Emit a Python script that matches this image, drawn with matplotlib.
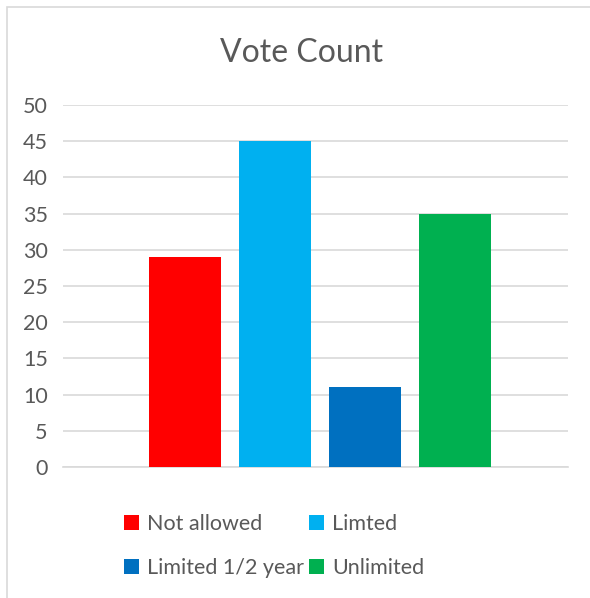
import matplotlib.pyplot as plt
from matplotlib.patches import Rectangle

series = ['Not allowed', 'Limted', 'Limited 1/2 year', 'Unlimited']
votes = [29, 45, 11, 35]
colors = ['#FF0000', '#00B0F0', '#0070C0', '#00B050']
yticks = [0, 5, 10, 15, 20, 25, 30, 35, 40, 45, 50]

TEXT = '#595959'
GRID = '#D9D9D9'

plt.rcParams['font.family'] = ['Lato', 'DejaVu Sans']

fig = plt.figure(figsize=(5.9, 5.98), dpi=100)
ax = fig.add_axes([63 / 590, 1 - 467 / 598, 505 / 590, 362 / 598])

# chart frame (cut off on the right and bottom)
fig.patches.append(Rectangle((6.5 / 590, -0.1), 1.2, 1.1 - 7.5 / 598,
                             transform=fig.transFigure, fill=False,
                             edgecolor=GRID, linewidth=1.2))

bars = []
for i, (name, v, c) in enumerate(zip(series, votes, colors)):
    bars.append(ax.bar(i, v, width=0.8, color=c, label=name, zorder=3))

ax.set_xlim(-1.35, 4.26)
ax.set_ylim(0, 50)
ax.set_yticks(yticks)
ax.set_xticks([])
ax.yaxis.grid(True, color=GRID, linewidth=1.2)
ax.set_axisbelow(True)
for s in ['left', 'right', 'top']:
    ax.spines[s].set_visible(False)
ax.spines['bottom'].set_color(GRID)
ax.spines['bottom'].set_linewidth(1.2)
ax.tick_params(axis='y', length=0, pad=11, labelsize=15.5, labelcolor=TEXT)

fig.text(302 / 590, 1 - 53 / 598, 'Vote Count', ha='center', va='center',
         fontsize=23, color=TEXT)

# legend laid out row by row: matplotlib fills columns first
order = [0, 2, 1, 3]
leg = fig.legend(handles=[bars[i][0] for i in order],
                 labels=[series[i] for i in order], ncol=2,
                 loc='center', bbox_to_anchor=(274 / 590, 1 - 546 / 598),
                 frameon=False, fontsize=15.5, handlelength=0.7,
                 handleheight=0.7, handletextpad=0.4, columnspacing=0.2,
                 labelspacing=1.15)
for t in leg.get_texts():
    t.set_color(TEXT)

fig.savefig('out.png', dpi=100)
